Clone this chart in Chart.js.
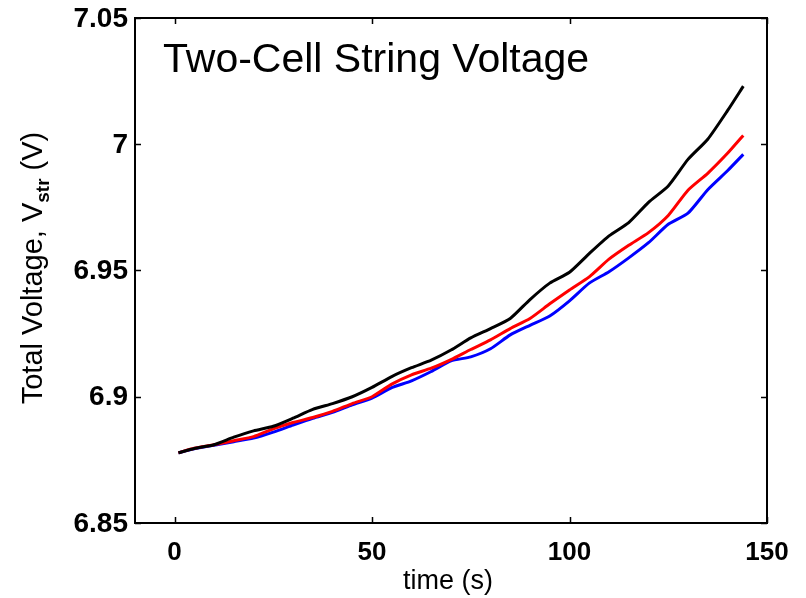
<!DOCTYPE html>
<html>
<head>
<meta charset="utf-8">
<script src="https://cdn.jsdelivr.net/npm/chart.js@4/dist/chart.umd.min.js"></script>
<style>
  html, body { margin: 0; padding: 0; background: #fff; }
  #wrap { width: 806px; height: 598px; }
</style>
</head>
<body>
<div id="wrap"><canvas id="c" width="806" height="598"></canvas></div>
<script>
const timeS = [1, 5, 10, 15, 20, 25, 30, 35, 40, 45, 50, 55, 60, 65, 70, 75, 80, 85, 90, 95, 100, 105, 110, 115, 120, 125, 130, 135, 140, 144];
const vBlack = [6.8778, 6.8795, 6.8810, 6.8840, 6.8865, 6.8883, 6.8915, 6.8950, 6.8973, 6.9000, 6.9037, 6.9080, 6.9115, 6.9145, 6.9185, 6.9233, 6.9270, 6.9310, 6.9385, 6.9450, 6.9493, 6.9567, 6.9637, 6.9690, 6.9770, 6.9835, 6.9940, 7.0020, 7.0133, 7.0230];
const vRed = [6.8778, 6.8796, 6.8810, 6.8826, 6.8842, 6.8873, 6.8898, 6.8918, 6.8942, 6.8973, 6.9000, 6.9050, 6.9087, 6.9113, 6.9147, 6.9187, 6.9225, 6.9270, 6.9310, 6.9368, 6.9423, 6.9475, 6.9545, 6.9600, 6.9650, 6.9718, 6.9818, 6.9885, 6.9964, 7.0035];
const vBlue = [6.8778, 6.8794, 6.8808, 6.8822, 6.8836, 6.8860, 6.8888, 6.8915, 6.8938, 6.8968, 6.8995, 6.9036, 6.9063, 6.9100, 6.9142, 6.9158, 6.9190, 6.9245, 6.9283, 6.9320, 6.9380, 6.9450, 6.9495, 6.9550, 6.9610, 6.9683, 6.9727, 6.9820, 6.9895, 6.9960];
const xTicks = [0, 50, 100, 150];
const yTicks = [6.85, 6.9, 6.95, 7, 7.05];

const pts = v => timeS.map((t, i) => ({ x: t, y: v[i] }));
const FONT = '"Liberation Sans", Arial, Helvetica, sans-serif';

// frame, inward ticks, labels and titles, matlab style
const frame = {
  id: 'frame',
  afterDraw(chart) {
    const { ctx, chartArea: a, scales: { x, y } } = chart;
    ctx.save();
    ctx.strokeStyle = '#000';
    ctx.lineWidth = 1.5;
    ctx.beginPath();
    xTicks.forEach(t => {
      const px = Math.round(x.getPixelForValue(t)) + 0.5;
      ctx.moveTo(px, a.bottom); ctx.lineTo(px, a.bottom - 6);
      ctx.moveTo(px, a.top); ctx.lineTo(px, a.top + 6);
    });
    yTicks.forEach(t => {
      const py = Math.round(y.getPixelForValue(t)) + 0.5;
      ctx.moveTo(a.left, py); ctx.lineTo(a.left + 6, py);
      ctx.moveTo(a.right, py); ctx.lineTo(a.right - 6, py);
    });
    ctx.stroke();
    ctx.lineWidth = 2;
    ctx.strokeRect(a.left, a.top, a.right - a.left, a.bottom - a.top);

    ctx.fillStyle = '#000';
    ctx.font = 'bold 28px ' + FONT;
    ctx.textAlign = 'right';
    ctx.textBaseline = 'middle';
    yTicks.forEach(t => ctx.fillText(String(t), a.left - 7, y.getPixelForValue(t) + 1));

    ctx.font = 'bold 26px ' + FONT;
    ctx.textAlign = 'center';
    ctx.textBaseline = 'alphabetic';
    xTicks.forEach(t => ctx.fillText(String(t), x.getPixelForValue(t), 560));

    ctx.font = '27px ' + FONT;
    ctx.fillText('time (s)', 448, 589);

    // y title with subscript
    ctx.save();
    ctx.translate(42, 268);
    ctx.rotate(-Math.PI / 2);
    const f1 = '29px ' + FONT, f2 = 'bold 19px ' + FONT;
    const p1 = 'Total Voltage, V', p2 = 'str', p3 = ' (V)';
    ctx.font = f1; const w1 = ctx.measureText(p1).width, w3 = ctx.measureText(p3).width;
    ctx.font = f2; const w2 = ctx.measureText(p2).width;
    let sx = -(w1 + w2 + w3) / 2;
    ctx.textAlign = 'left';
    ctx.font = f1; ctx.fillText(p1, sx, 0); sx += w1;
    ctx.font = f2; ctx.fillText(p2, sx, 7); sx += w2;
    ctx.font = f1; ctx.fillText(p3, sx, 0);
    ctx.restore();

    ctx.font = '41px ' + FONT;
    ctx.textAlign = 'left';
    ctx.fillText('Two-Cell String Voltage', 163, 72);
    ctx.restore();
  }
};

new Chart(document.getElementById('c'), {
  type: 'line',
  data: {
    datasets: [
      { label: 'String', data: pts(vBlack), borderColor: '#000000' },
      { label: 'Cell A', data: pts(vRed), borderColor: '#ff0000' },
      { label: 'Cell B', data: pts(vBlue), borderColor: '#0000ff' }
    ]
  },
  options: {
    responsive: false,
    animation: false,
    layout: { padding: { top: 18, right: 39, left: 0, bottom: 0 } },
    elements: { point: { radius: 0 }, line: { borderWidth: 3, tension: 0.2, fill: false } },
    plugins: { legend: { display: false }, tooltip: { enabled: false } },
    scales: {
      x: {
        type: 'linear', min: -10, max: 150,
        grid: { display: false, drawTicks: false }, border: { display: false },
        ticks: { display: false, stepSize: 50 },
        afterFit: s => { s.height = 75; }
      },
      y: {
        min: 6.85, max: 7.05,
        grid: { display: false, drawTicks: false }, border: { display: false },
        ticks: { display: false, stepSize: 0.05 },
        afterFit: s => { s.width = 135; }
      }
    }
  },
  plugins: [frame]
});
</script>
</body>
</html>
